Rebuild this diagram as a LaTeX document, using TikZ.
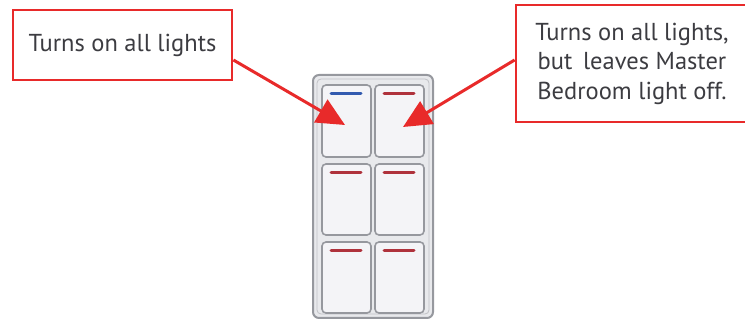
\documentclass[tikz,border=0pt]{standalone}
\usepackage{fontspec}
\setmainfont{PT Sans}
\usetikzlibrary{arrows.meta}
\definecolor{boxred}{RGB}{232,42,42}
\definecolor{txtgray}{RGB}{60,60,65}
\definecolor{panelfill}{RGB}{232,233,236}
\definecolor{paneldraw}{RGB}{150,152,158}
\definecolor{btnfill}{RGB}{244,244,247}
\definecolor{barblue}{RGB}{50,90,175}
\definecolor{barred}{RGB}{175,50,60}
\tikzset{
  x=1pt, y=-1pt,
  callout/.style={draw=boxred, line width=2.8pt, fill=white, text=txtgray, font=\fontsize{24.5}{29.5}\selectfont, align=center, inner sep=0pt},
  pointer/.style={draw=boxred, line width=3pt, -{Triangle[length=28pt,width=26pt]}},
  btn/.style={draw=paneldraw, line width=1.6pt, fill=btnfill, rounded corners=4pt},
  bar/.style={line width=3pt, line cap=round},
}
\begin{document}
\begin{tikzpicture}
\useasboundingbox (0,0) rectangle (745,320);
% callouts
\node[callout, minimum width=219pt, minimum height=70pt] (left) at (122.5,45) {Turns on all lights};
\node[callout, minimum width=232pt, minimum height=117pt] (right) at (632,63.5) {Turns on all lights,\\but\, leaves Master\\Bedroom light off.};
% panel
\draw[draw=paneldraw, line width=2pt, fill=panelfill, rounded corners=6pt] (313,75) rectangle (433,318);
\draw[draw=paneldraw!60, line width=0.8pt, rounded corners=4pt] (317,79) rectangle (429,314);
% buttons
\node[btn, minimum width=49pt, minimum height=72pt] (b11) at (346.5,121) {};
\node[btn, minimum width=49pt, minimum height=72pt] (b12) at (399.5,121) {};
\node[btn, minimum width=49pt, minimum height=71pt] (b21) at (346.5,199.5) {};
\node[btn, minimum width=49pt, minimum height=71pt] (b22) at (399.5,199.5) {};
\node[btn, minimum width=49pt, minimum height=71pt] (b31) at (346.5,277.5) {};
\node[btn, minimum width=49pt, minimum height=71pt] (b32) at (399.5,277.5) {};
% indicator bars
\draw[bar, barblue] (331,94) -- (361,94);
\draw[bar, barred] (384,94) -- (414,94);
\draw[bar, barred] (331,173) -- (361,173);
\draw[bar, barred] (384,173) -- (414,173);
\draw[bar, barred] (331,251) -- (361,251);
\draw[bar, barred] (384,251) -- (414,251);
% arrows
\coordinate (tipL) at (345,125);
\coordinate (tipR) at (403,127);
\draw[pointer] (left.east |- 0,60) -- (tipL);
\draw[pointer] (right.west |- 0,60) -- (tipR);
\end{tikzpicture}
\end{document}
